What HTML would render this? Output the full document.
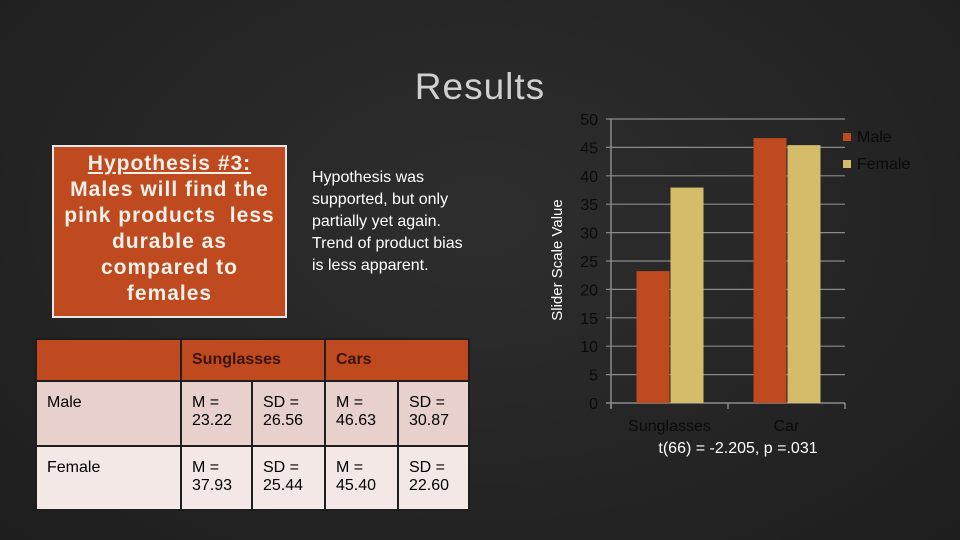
<!DOCTYPE html>
<html><head><meta charset="utf-8"><style>
body{margin:0;width:960px;height:540px;background:#252525;overflow:hidden;font-family:"Liberation Sans",sans-serif;position:relative}
#bg{position:absolute;inset:0;background:radial-gradient(ellipse at 50% 40%,#2e2e2e,#1e1e1e)}
.abs{position:absolute}
#title{left:380px;top:66px;width:200px;text-align:center;font-size:37px;color:#d0d0d0;letter-spacing:1px}
#hyp{left:52px;top:145px;width:231px;background:#bf4a1f;border:2px solid #e8e8e8;color:#f5f0e8;font-size:21px;font-weight:bold;letter-spacing:1px;line-height:26px;text-align:center;box-sizing:content-box;padding-top:4px;height:165px;white-space:nowrap}
#note{left:312px;top:167px;width:200px;color:#fff;font-size:16px;line-height:22px}
table{position:absolute;left:35px;top:338px;border-collapse:collapse;font-size:16px;color:#000}
td{border:2px solid #1e1e1e;vertical-align:top;padding:12px 10px 0 10px;box-sizing:border-box}
tr.h td{background:#bf4a1f;color:#3a1408;font-weight:bold;height:42px;vertical-align:middle;padding-top:0}
tr.m td{background:#e8d0cc;height:65px}
tr.f td{background:#f3e8e6;height:64px}
</style></head><body>
<div id="bg"></div>
<div id="title" class="abs">Results</div>
<div id="hyp" class="abs"><u>Hypothesis #3:</u><br>Males will find the<br>pink products&nbsp; less<br>durable as<br>compared to<br>females</div>
<div id="note" class="abs">Hypothesis was<br>supported, but only<br>partially yet again.<br>Trend of product bias<br>is less apparent.</div>
<table>
<tr class="h"><td style="width:145px"></td><td colspan="2" style="width:144px">Sunglasses</td><td colspan="2" style="width:144px">Cars</td></tr>
<tr class="m"><td>Male</td><td style="width:71px">M =<br>23.22</td><td style="width:73px">SD =<br>26.56</td><td style="width:73px">M =<br>46.63</td><td style="width:71px">SD =<br>30.87</td></tr>
<tr class="f"><td>Female</td><td>M =<br>37.93</td><td>SD =<br>25.44</td><td>M =<br>45.40</td><td>SD =<br>22.60</td></tr>
</table>
<svg id="chart" class="abs" style="left:0;top:0" width="960" height="540"></svg>
<script>
const categories=["Sunglasses","Car"];
const maleValues=[23.22,46.63];
const femaleValues=[37.93,45.40];
const yTicks=[0,5,10,15,20,25,30,35,40,45,50];
const NS="http://www.w3.org/2000/svg";
const svg=document.getElementById('chart');
const X0=611,X1=845,Y0=403,Y50=119;
const y=v=>Y0-(v/50)*(Y0-Y50);
const catW=(X1-X0)/categories.length;
function mk(t,a,txt){const e=document.createElementNS(NS,t);for(const k in a)e.setAttribute(k,a[k]);if(txt!=null)e.textContent=txt;svg.appendChild(e);return e;}
yTicks.forEach(v=>{
 const g=mk('line',{x1:X0-5,x2:X1,y1:y(v),y2:y(v),stroke:'#8a8a8a','stroke-width':v===0?1.5:1.2});
 
 
 const t=mk('text',{x:598,y:y(v)+6,'text-anchor':'end','font-size':16,fill:'#0a0a0a','font-family':'Liberation Sans'},v);
 
 
});
mk('line',{x1:X0,x2:X0,y1:Y50,y2:Y0+5,stroke:'#8a8a8a','stroke-width':1.5});
for(let i=0;i<=categories.length;i++)mk('line',{x1:X0+i*catW,x2:X0+i*catW,y1:Y0,y2:Y0+6,stroke:'#8a8a8a','stroke-width':1.5});
const bw=33;
categories.forEach((c,i)=>{
 const cx=X0+catW*(i+0.5);
 const m=mk('rect',{x:cx-bw,y:y(maleValues[i]),width:bw,height:Y0-y(maleValues[i]),fill:'#bf4a1f'});
 
 
 const f=mk('rect',{x:cx+1,y:y(femaleValues[i]),width:bw,height:Y0-y(femaleValues[i]),fill:'#d5bc6a'});
 
 
 const t=mk('text',{x:cx,y:431,'text-anchor':'middle','font-size':16,fill:'#0a0a0a','font-family':'Liberation Sans'},c);
 
 
});
const at=mk('text',{x:0,y:0,transform:'translate(562,260) rotate(-90)','text-anchor':'middle','font-size':15,fill:'#fff','font-family':'Liberation Sans'},'Slider Scale Value');


const st=mk('text',{x:738,y:453,'text-anchor':'middle','font-size':16,fill:'#fff','font-family':'Liberation Sans'},'t(66) = -2.205, p =.031');


[['Male','#bf4a1f',133],['Female','#d5bc6a',160]].forEach(([n,c,yy])=>{
 const r=mk('rect',{x:843,y:yy,width:8,height:8,fill:c});
 
 
 const t=mk('text',{x:857,y:yy+9,'font-size':16,fill:'#0a0a0a','font-family':'Liberation Sans'},n);
 
 
});
</script>
</body></html>
